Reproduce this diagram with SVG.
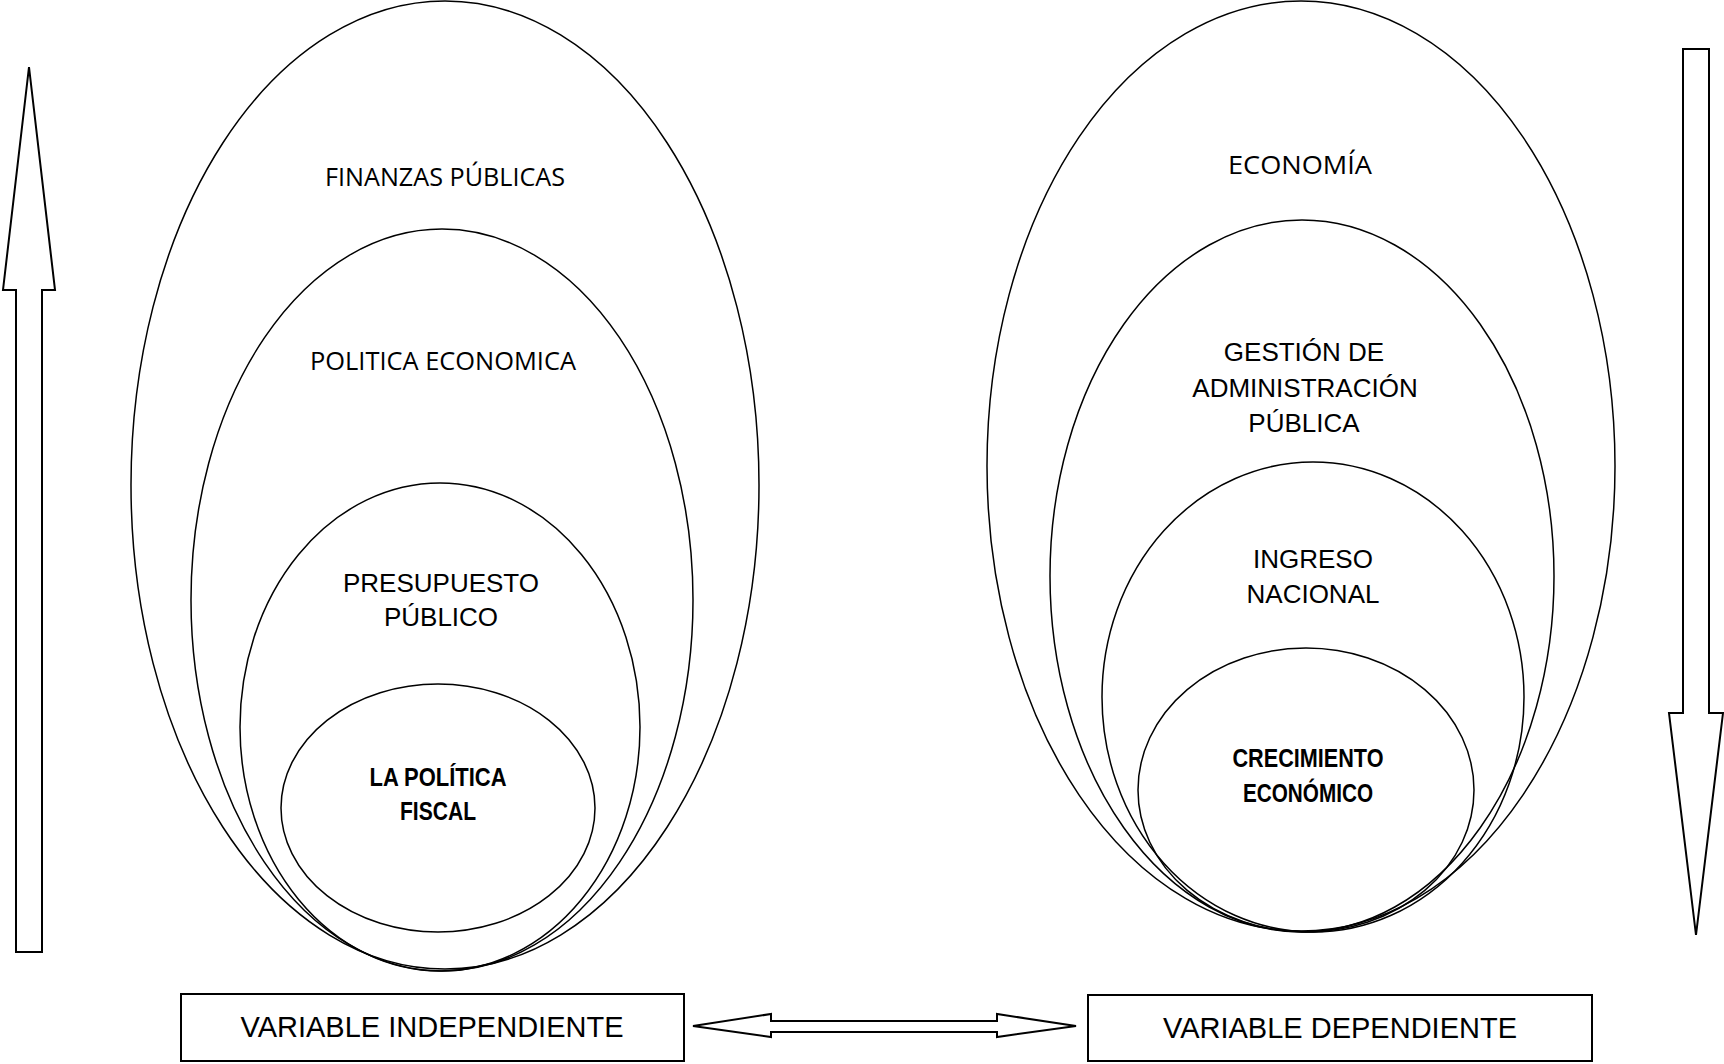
<svg xmlns="http://www.w3.org/2000/svg" width="1724" height="1064" viewBox="0 0 1724 1064">
<style>
.e{fill:none;stroke:#000;stroke-width:1.5}
.a{fill:#fff;stroke:#000;stroke-width:2;stroke-linejoin:miter}
.b{fill:#fff;stroke:#000;stroke-width:2}
.t{font-family:"Liberation Sans",Arial,sans-serif;font-size:26px;fill:#000;text-anchor:middle}
.c{font-family:"Open Sans","Noto Sans",sans-serif;font-size:25px;fill:#000;text-anchor:middle}
.k{font-family:"Liberation Sans",Arial,sans-serif;font-size:26px;font-weight:bold;fill:#000;text-anchor:middle}
.v{font-family:"Liberation Sans",Arial,sans-serif;font-size:29px;fill:#000;text-anchor:middle}
</style>
<rect width="1724" height="1064" fill="#fff"/>
<g id="left-ellipses">
<g id="finanzas"><ellipse class="e" cx="445" cy="485" rx="314" ry="484"/><text class="c" x="445" y="186" textLength="240" lengthAdjust="spacingAndGlyphs">FINANZAS PÚBLICAS</text></g>
<g id="politica-economica"><ellipse class="e" cx="442" cy="600" rx="251" ry="371"/><text class="c" x="443" y="370" textLength="266" lengthAdjust="spacingAndGlyphs">POLITICA ECONOMICA</text></g>
<g id="presupuesto"><ellipse class="e" cx="440" cy="727" rx="200" ry="244"/><text class="t" x="441" y="592">PRESUPUESTO</text><text class="t" x="441" y="626">PÚBLICO</text></g>
<g id="politica-fiscal"><ellipse class="e" cx="438" cy="808" rx="157" ry="124"/><text class="k" x="438" y="786" textLength="137" lengthAdjust="spacingAndGlyphs">LA POLÍTICA</text><text class="k" x="438" y="820" textLength="76" lengthAdjust="spacingAndGlyphs">FISCAL</text></g>
</g>
<g id="right-ellipses">
<g id="economia"><ellipse class="e" cx="1301" cy="466" rx="314" ry="465"/><text class="c" x="1300" y="174" textLength="144" lengthAdjust="spacingAndGlyphs">ECONOMÍA</text></g>
<g id="gestion"><ellipse class="e" cx="1302" cy="576" rx="252" ry="356"/><text class="t" x="1304" y="361">GESTIÓN DE</text><text class="t" x="1305" y="397">ADMINISTRACIÓN</text><text class="t" x="1304" y="432">PÚBLICA</text></g>
<g id="ingreso"><ellipse class="e" cx="1313" cy="697" rx="211" ry="235"/><text class="t" x="1313" y="568">INGRESO</text><text class="t" x="1313" y="603">NACIONAL</text></g>
<g id="crecimiento"><ellipse class="e" cx="1306" cy="790" rx="168" ry="142"/><text class="k" x="1308" y="767" textLength="151" lengthAdjust="spacingAndGlyphs">CRECIMIENTO</text><text class="k" x="1308" y="802" textLength="130" lengthAdjust="spacingAndGlyphs">ECONÓMICO</text></g>
</g>
<g id="var-independiente"><rect class="b" x="181" y="994" width="503" height="67"/><text class="v" x="432" y="1037">VARIABLE INDEPENDIENTE</text></g>
<g id="var-dependiente"><rect class="b" x="1088" y="995" width="504" height="66"/><text class="v" x="1340" y="1038">VARIABLE DEPENDIENTE</text></g>
<g id="connectors">
<polygon class="a" points="29,67 55,290 42,290 42,952 16,952 16,290 3,290"/>
<polygon class="a" points="1683,49 1709,49 1709,713 1723,713 1696,935 1669,713 1683,713"/>
<polygon class="a" points="693,1026 771,1014 771,1021 997,1021 997,1014 1076,1026 997,1037 997,1032 771,1032 771,1037"/>
</g>
</svg>
